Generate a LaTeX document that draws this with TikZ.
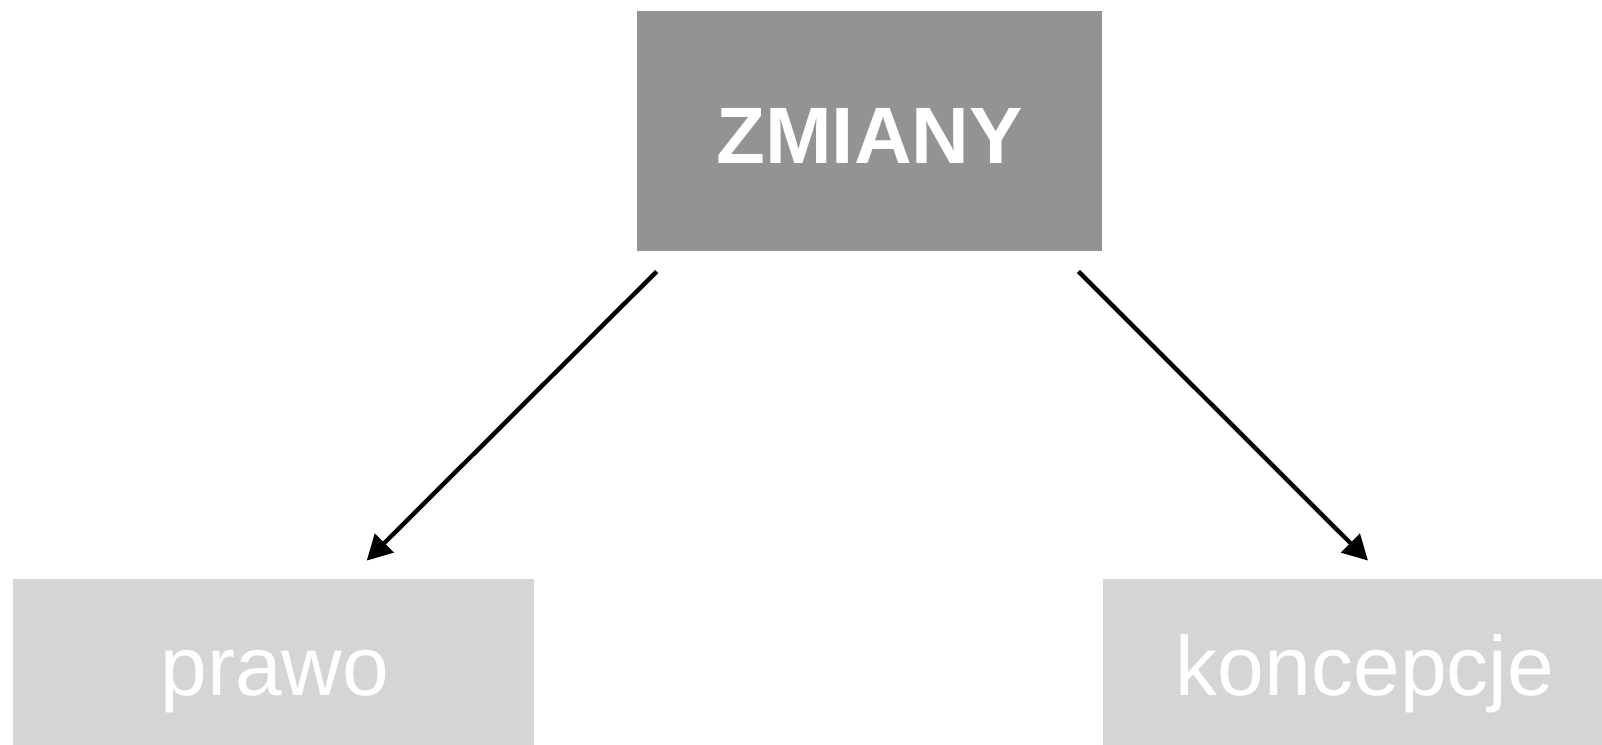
\documentclass[tikz,border=0pt]{standalone}
\usepackage{fontspec}
\setmainfont{Liberation Sans}
\usetikzlibrary{arrows.meta,calc}
\definecolor{topgray}{HTML}{939393}
\definecolor{lightgray}{HTML}{D5D5D5}
\tikzset{
  topbox/.style={rectangle, fill=topgray, draw=none, inner sep=0pt,
    minimum width=232.6bp, minimum height=119.9bp},
  subbox/.style={rectangle, fill=lightgray, draw=none, inner sep=0pt,
    minimum width=260.2bp, minimum height=91bp},
  toplabel/.style={anchor=base, inner sep=0pt, text=white,
    font=\fontsize{40bp}{48bp}\selectfont\bfseries},
  sublabel/.style={anchor=base, inner sep=0pt, text=white,
    font=\fontsize{42bp}{50bp}\selectfont},
  conn/.style={draw=black, line width=2.2bp,
    -{Triangle[length=12.5bp, width=13bp]}}
}
\begin{document}
\begin{tikzpicture}[x=0.5bp, y=-0.5bp]
  \useasboundingbox (0,0) rectangle (1602,745);
  \clip (0,0) rectangle (1602,745);
  % boxes
  \node[topbox] (top) at (869.7,130.9) {};
  \node[subbox] (left) at (273.3,670) {};
  \node[subbox] (right) at (1363,670) {};
  % labels
  \node[toplabel] (ttop) at ($(top.center)+(0,32.4)$) {ZMIANY};
  \node[sublabel] (tleft) at ($(left.center)+(1.5,25)$) {prawo};
  \node[sublabel] (tright) at ($(right.center)+(2,25)$) {koncepcje};
  % connectors
  \coordinate (s1) at ($(top.south west)+(20,20.3)$);
  \coordinate (e1) at ($(left.north)+(93.4,-18)$);
  \coordinate (s2) at ($(top.south east)+(-24.3,20.3)$);
  \coordinate (e2) at ($(right.north)+(5,-18)$);
  \draw[conn] (s1) -- (e1);
  \draw[conn] (s2) -- (e2);
\end{tikzpicture}
\end{document}
